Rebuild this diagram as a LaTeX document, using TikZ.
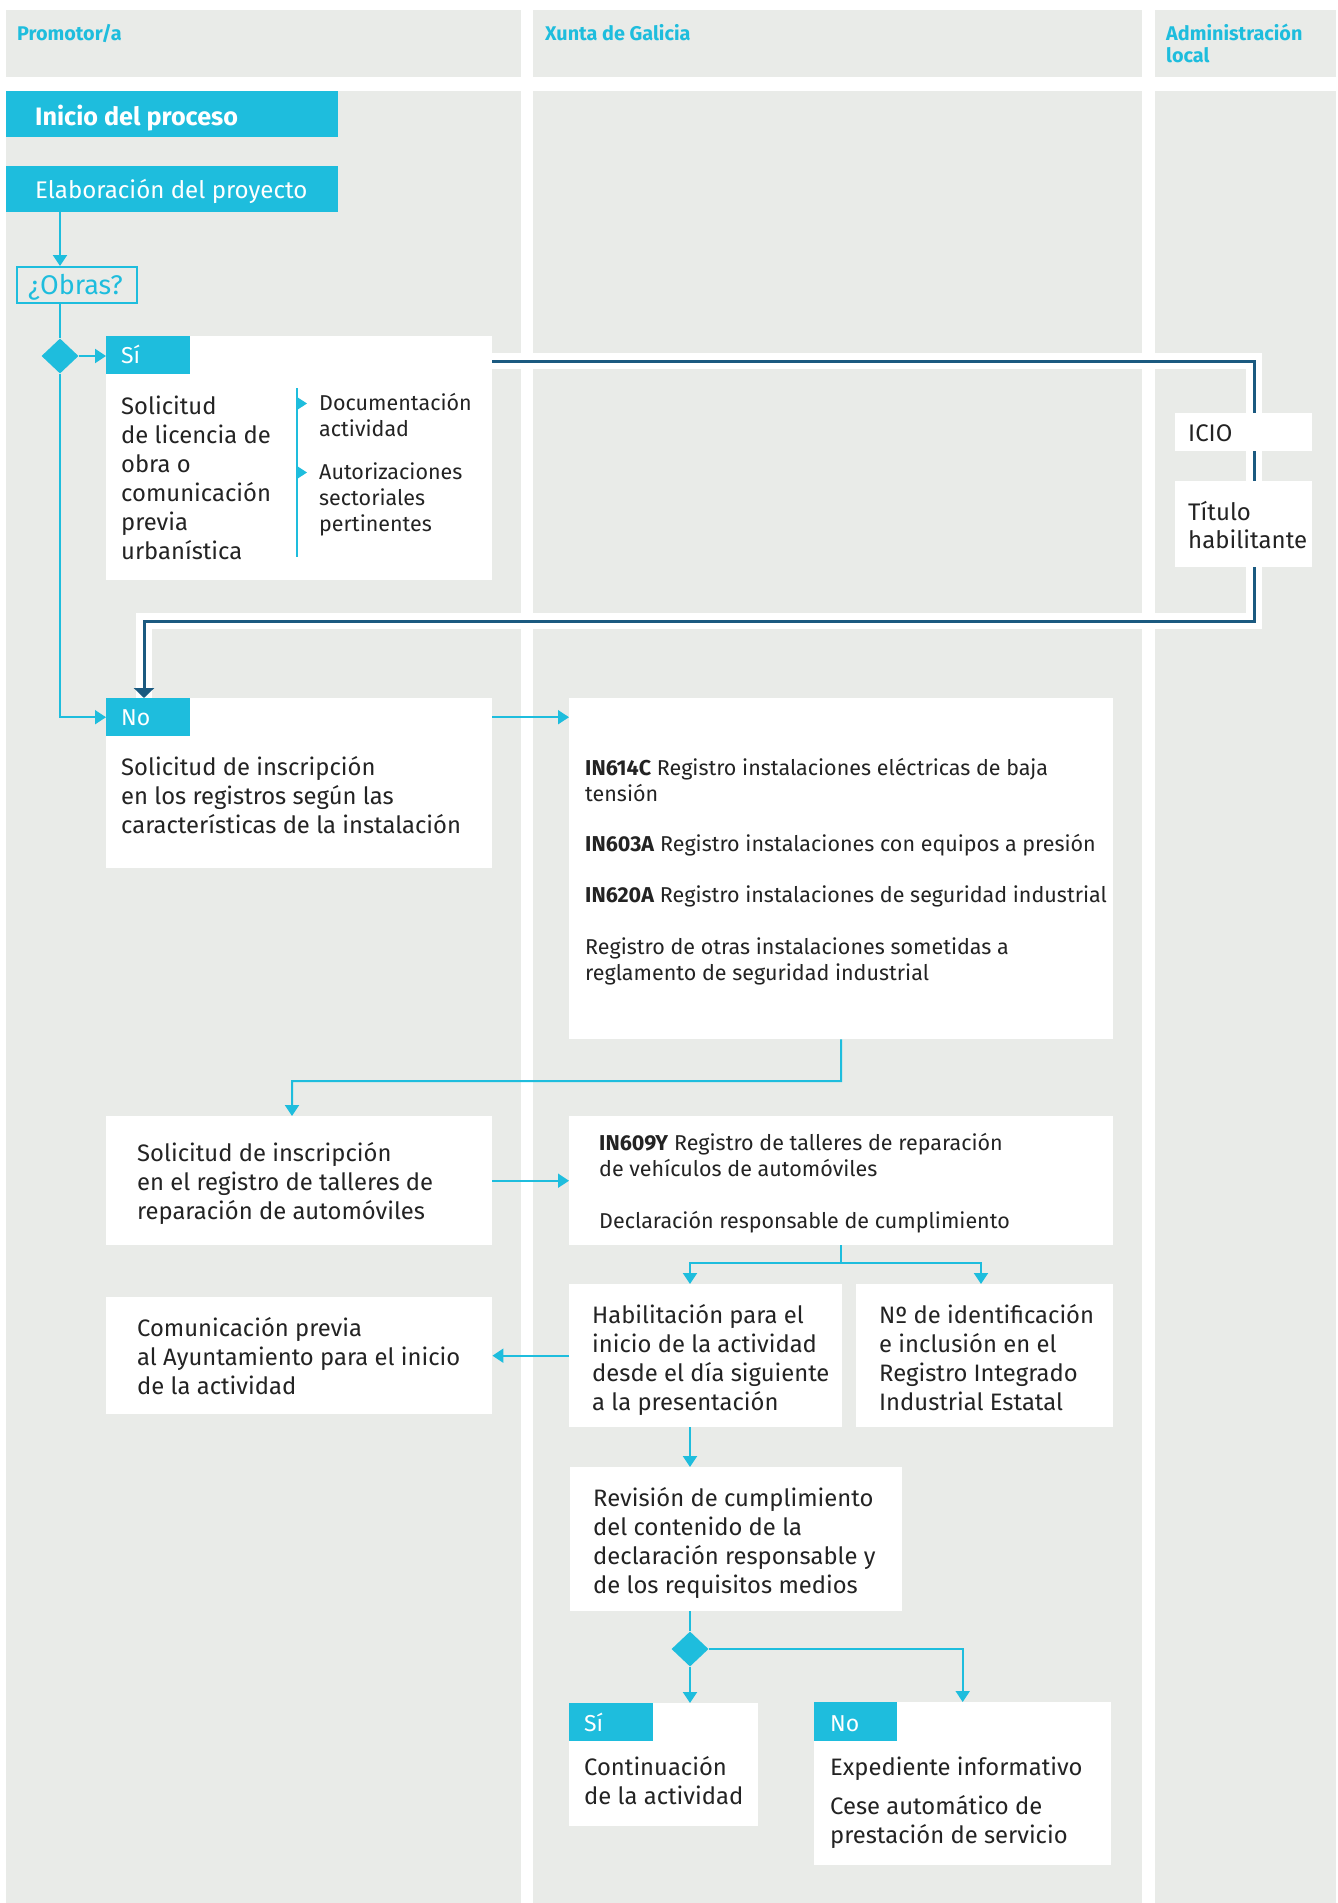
\documentclass[tikz,border=0pt]{standalone}
\usepackage{fontspec}
\setmainfont{Fira Sans}
\usetikzlibrary{shapes.geometric,arrows.meta,calc}
\definecolor{cy}{RGB}{30,189,221}
\definecolor{lg}{RGB}{233,235,232}
\definecolor{dk}{RGB}{27,90,128}
\definecolor{tx}{RGB}{35,35,35}
\newcommand\rbox[6]{\node[#2,minimum width={(#5-#3)*1pt},minimum height={(#6-#4)*1pt}] (#1) at (#3,#4) {};}
\begin{document}
\begin{tikzpicture}[x=1pt,y=-1pt,
  lane/.style={fill=lg,draw=none,inner sep=0,anchor=north west},
  wbox/.style={fill=white,draw=none,inner sep=0,anchor=north west},
  cbox/.style={fill=cy,draw=none,inner sep=0,anchor=north west},
  obox/.style={draw=cy,line width=1.5pt,fill=none,inner sep=0,anchor=north west},
  main/.style={font=\fontsize{23.8}{29}\selectfont,text=tx,align=left,inner sep=0,anchor=north west,yshift=-1.5pt},
  small/.style={font=\fontsize{21.5}{26}\selectfont,text=tx,align=left,inner sep=0,anchor=north west,yshift=-1.2pt},
  tabtxt/.style={font=\fontsize{23}{29}\selectfont,text=white,inner sep=0,anchor=north west,yshift=-1.2pt},
  head/.style={font=\bfseries\fontsize{19.8}{22}\selectfont,text=cy,align=left,inner sep=0,anchor=north west,yshift=-2.4pt},
  dia/.style={diamond,fill=cy,draw=none,inner sep=0,minimum width=37pt,minimum height=35pt},
  cline/.style={draw=cy,line width=2pt},
  carrow/.style={draw=cy,line width=2pt,-{Triangle[length=11pt,width=14pt]}},
  dcase/.style={draw=white,line width=16pt},
  darrow/.style={draw=dk,line width=3pt,-{Triangle[length=10pt,width=20pt]}}
]
\useasboundingbox[fill=white] (0,0) rectangle (1338,1903);
% lanes
\rbox{h1}{lane}{6}{10}{521}{77}
\rbox{h2}{lane}{533}{10}{1142}{77}
\rbox{h3}{lane}{1155}{10}{1336}{77}
\rbox{l1}{lane}{6}{91}{521}{1903}
\rbox{l2}{lane}{533}{91}{1142}{1903}
\rbox{l3}{lane}{1155}{91}{1336}{1903}
\node[head] (th1) at (17,21.5) {\strut Promotor/a};
\node[head] (th2) at (545,21.5) {\strut Xunta de Galicia};
\node[head] (th3) at (1166,21.5) {\strut Administración\\local};
% start
\rbox{inicio}{cbox}{6}{91}{338}{137}
\node[tabtxt,font=\bfseries\fontsize{25.2}{30}\selectfont,yshift=-1.2pt] (tinicio) at (35,101.6) {\strut Inicio del proceso};
\rbox{elab}{cbox}{6}{166}{338}{212}
\node[tabtxt,font=\fontsize{24.1}{29}\selectfont] (telab) at (35,177) {\strut Elaboración del proyecto};
\rbox{obras}{obox}{16}{266}{136}{302}
\node[tabtxt,text=cy,font=\fontsize{27}{30}\selectfont,yshift=-1.2pt] (tobras) at (28,271) {\strut ¿Obras?};
\node[dia] (d1) at (60,356) {};
% Si box
\rbox{sibox}{wbox}{106}{336}{492}{580}
\rbox{sitab}{cbox}{106}{336}{190}{374}
\node[tabtxt] (tsi) at (121,341.8) {\strut Sí};
\node[main] (tsitext) at (121,392.8) {\strut Solicitud\\de licencia de\\obra o\\comunicación\\previa\\urbanística};
\draw[cy,line width=2pt] (297,388) -- (297,557);
\fill[cy] (297,397) -- (307,403.5) -- (297,410) -- cycle;
\fill[cy] (297,466) -- (307,472.5) -- (297,479) -- cycle;
\node[small] (tdoc) at (319,391.2) {\strut Documentación\\actividad};
\node[small] (taut) at (319,460.2) {\strut Autorizaciones\\sectoriales\\pertinentes};
% No box
\rbox{nobox}{wbox}{106}{698}{492}{868}
\rbox{notab}{cbox}{106}{698}{190}{736}
\node[tabtxt] (tno) at (121,703.8) {\strut No};
\node[main] (tnotext) at (121,753.8) {\strut Solicitud de inscripción\\en los registros según las\\características de la instalación};
% dark loop
\coordinate (dk1) at (492,361);
\coordinate (dk2) at (1254,361);
\coordinate (dk3) at (1254,621);
\coordinate (dk4) at (144,621);
\draw[dcase] (dk1) -- (dk2) -- (dk3) -- (dk4) -- (dk4 |- notab.north);
\draw[darrow] (dk1) -- (dk2) -- (dk3) -- (dk4) -- (dk4 |- notab.north);
\rbox{icio}{wbox}{1175}{413}{1312}{451}
\node[main,font=\fontsize{24}{28}\selectfont] (ticio) at (1188,420.2) {\strut ICIO};
\rbox{titulo}{wbox}{1175}{481}{1312}{567}
\node[main,font=\fontsize{24}{28}\selectfont] (ttitulo) at (1188,499.2) {\strut Título\\habilitante};
% registers
\rbox{reg}{wbox}{569}{698}{1113}{1039}
\node[small] (tr1) at (585,756.2) {\strut\textbf{IN614C} Registro instalaciones eléctricas de baja\\tensión};
\node[small] (tr2) at (585,832.2) {\strut\textbf{IN603A} Registro instalaciones con equipos a presión};
\node[small] (tr3) at (585,883.2) {\strut\textbf{IN620A} Registro instalaciones de seguridad industrial};
\node[small] (tr4) at (585,935.2) {\strut Registro de otras instalaciones sometidas a\\reglamento de seguridad industrial};
% talleres
\rbox{tal}{wbox}{106}{1116}{492}{1245}
\node[main] (ttal) at (137,1139.8) {\strut Solicitud de inscripción\\en el registro de talleres de\\reparación de automóviles};
\rbox{in609}{wbox}{569}{1116}{1113}{1245}
\node[small] (tin1) at (599,1131.2) {\strut\textbf{IN609Y} Registro de talleres de reparación\\de vehículos de automóviles};
\node[small] (tin2) at (599,1209.2) {\strut Declaración responsable de cumplimiento};
\rbox{habil}{wbox}{569}{1284}{842}{1427}
\node[main] (thabil) at (592,1301.8) {\strut Habilitación para el\\inicio de la actividad\\desde el día siguiente\\a la presentación};
\rbox{nid}{wbox}{856}{1284}{1113}{1427}
\node[main] (tnid) at (879,1301.8) {\strut Nº de identificación\\e inclusión en el\\Registro Integrado\\Industrial Estatal};
\rbox{comun}{wbox}{106}{1297}{492}{1414}
\node[main] (tcomun) at (137,1314.8) {\strut Comunicación previa\\al Ayuntamiento para el inicio\\de la actividad};
\rbox{revis}{wbox}{570}{1467}{902}{1611}
\node[main] (trevis) at (593,1484.8) {\strut Revisión de cumplimiento\\del contenido de la\\declaración responsable y\\de los requisitos medios};
\node[dia] (d2) at (690,1649) {};
\rbox{si2}{wbox}{569}{1703}{758}{1826}
\rbox{si2tab}{cbox}{569}{1703}{653}{1741}
\node[tabtxt] (tsi2) at (584,1709.8) {\strut Sí};
\node[main] (tcont) at (584,1753.8) {\strut Continuación\\de la actividad};
\rbox{no2}{wbox}{814}{1702}{1111}{1865}
\rbox{no2tab}{cbox}{814}{1702}{897}{1741}
\node[tabtxt] (tno2) at (830,1709.8) {\strut No};
\node[main] (texp) at (830,1753.8) {\strut Expediente informativo};
\node[main] (tcese) at (830,1792.8) {\strut Cese automático de\\prestación de servicio};
% connectors
\draw[carrow] (d1 |- elab.south) -- (d1 |- obras.north);
\draw[cline] (d1 |- obras.south) -- (d1.north);
\draw[carrow] (d1.east) -- (d1.east -| sitab.west);
\draw[carrow] (d1.south) -- (d1 |- notab.west) -- (notab.west);
\draw[carrow] (notab.east -| nobox.east) -- (notab.east -| reg.west);
\coordinate (bend1) at (841,1081);
\coordinate (talin) at (292,1116);
\draw[carrow] (reg.south) -- (bend1) -| (talin);
\draw[carrow] (tal.east) -- (in609.west);
\coordinate (hx) at (690,1263);
\coordinate (nx) at (981,1263);
\draw[cline] (in609.south) -- (in609.south |- hx);
\draw[carrow] (in609.south |- hx) -- (hx) -- (hx |- habil.north);
\draw[carrow] (in609.south |- hx) -- (nx) -- (nx |- nid.north);
\draw[carrow] (habil.west) -- (comun.east);
\draw[carrow] (hx |- habil.south) -- (hx |- revis.north);
\draw[cline] (hx |- revis.south) -- (d2.north);
\draw[carrow] (d2.south) -- (d2 |- si2.north);
\draw[carrow] (d2.east) -| (no2.north);
\end{tikzpicture}
\end{document}
